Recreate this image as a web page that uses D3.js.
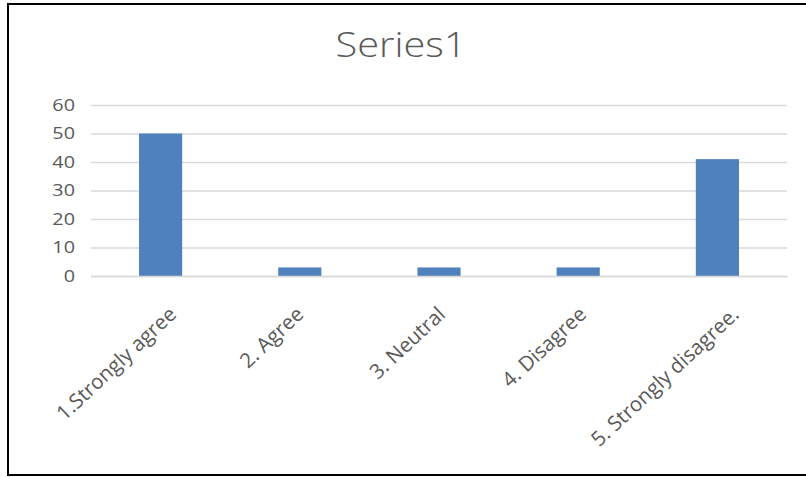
<!DOCTYPE html>
<html><head><meta charset="utf-8">
<script src="https://cdn.jsdelivr.net/npm/d3@7"></script>
<style>
html,body{margin:0;padding:0;background:#fff;}
svg{display:block;}
text{font-family:"Open Sans",sans-serif;fill:#595959;}
</style></head>
<body>
<svg id="chart" width="806" height="477"></svg>
<script>
const categories = ["1.Strongly agree", "2. Agree", "3. Neutral", "4. Disagree", "5. Strongly disagree."];
const values = [50, 3, 3, 3, 41];
const yTicks = [0, 10, 20, 30, 40, 50, 60];
const title = "Series1";

(function(){
const svg = d3.select("#chart");
svg.append("rect").attr("x", 8).attr("y", 4).attr("width", 806).attr("height", 471)
  .attr("fill", "#fff").attr("stroke", "#000").attr("stroke-width", 2);

const pLeft = 91, pRight = 787, pTop = 105, pBottom = 276;
const x = d3.scaleBand().domain(categories).range([pLeft, pRight]).paddingInner(0.69).paddingOuter(0.345);
const y = d3.scaleLinear().domain([0, 60]).range([pBottom, pTop]);

svg.append("text").attr("x", 0).attr("y", 0).attr("text-anchor", "middle")
  .attr("transform", "translate(401,57) scale(1.17,1)")
  .style("font-size", "34px").style("font-weight", "300").text(title);

const yAxis = d3.axisLeft(y).tickValues(yTicks).tickSize(-(pRight - pLeft)).tickPadding(16);
const gy = svg.append("g").attr("transform", `translate(${pLeft},0)`).call(yAxis);
gy.select(".domain").remove();
gy.selectAll(".tick line").attr("stroke", "#d9d9d9").attr("stroke-width", 1.5);
gy.selectAll(".tick text").style("font-size", "16.5px").attr("fill", "#595959")
  .attr("x", 0).attr("transform", "translate(-16,0) scale(1.2,1)");

svg.append("g").selectAll("rect").data(categories).join("rect")
  .attr("x", d => x(d)).attr("width", x.bandwidth())
  .attr("y", (d, i) => y(values[i])).attr("height", (d, i) => y(0) - y(values[i]))
  .attr("fill", "#4f81bd");

const xAxis = d3.axisBottom(x).tickSize(0).tickPadding(0);
const gx = svg.append("g").attr("transform", `translate(0,${pBottom})`).call(xAxis);
gx.select(".domain").attr("stroke", "#d9d9d9").attr("stroke-width", 1.5);
gx.selectAll(".tick text")
  .style("font-size", "20.5px").attr("fill", "#595959")
  .attr("text-anchor", "end").attr("dy", null).attr("y", null)
  .each(function(){
    const L = this.getComputedTextLength();
    const dx = -7 + 0.155 * L;
    d3.select(this).attr("transform", `translate(${dx},40) rotate(-43)`);
  });
})();
</script>
</body></html>
